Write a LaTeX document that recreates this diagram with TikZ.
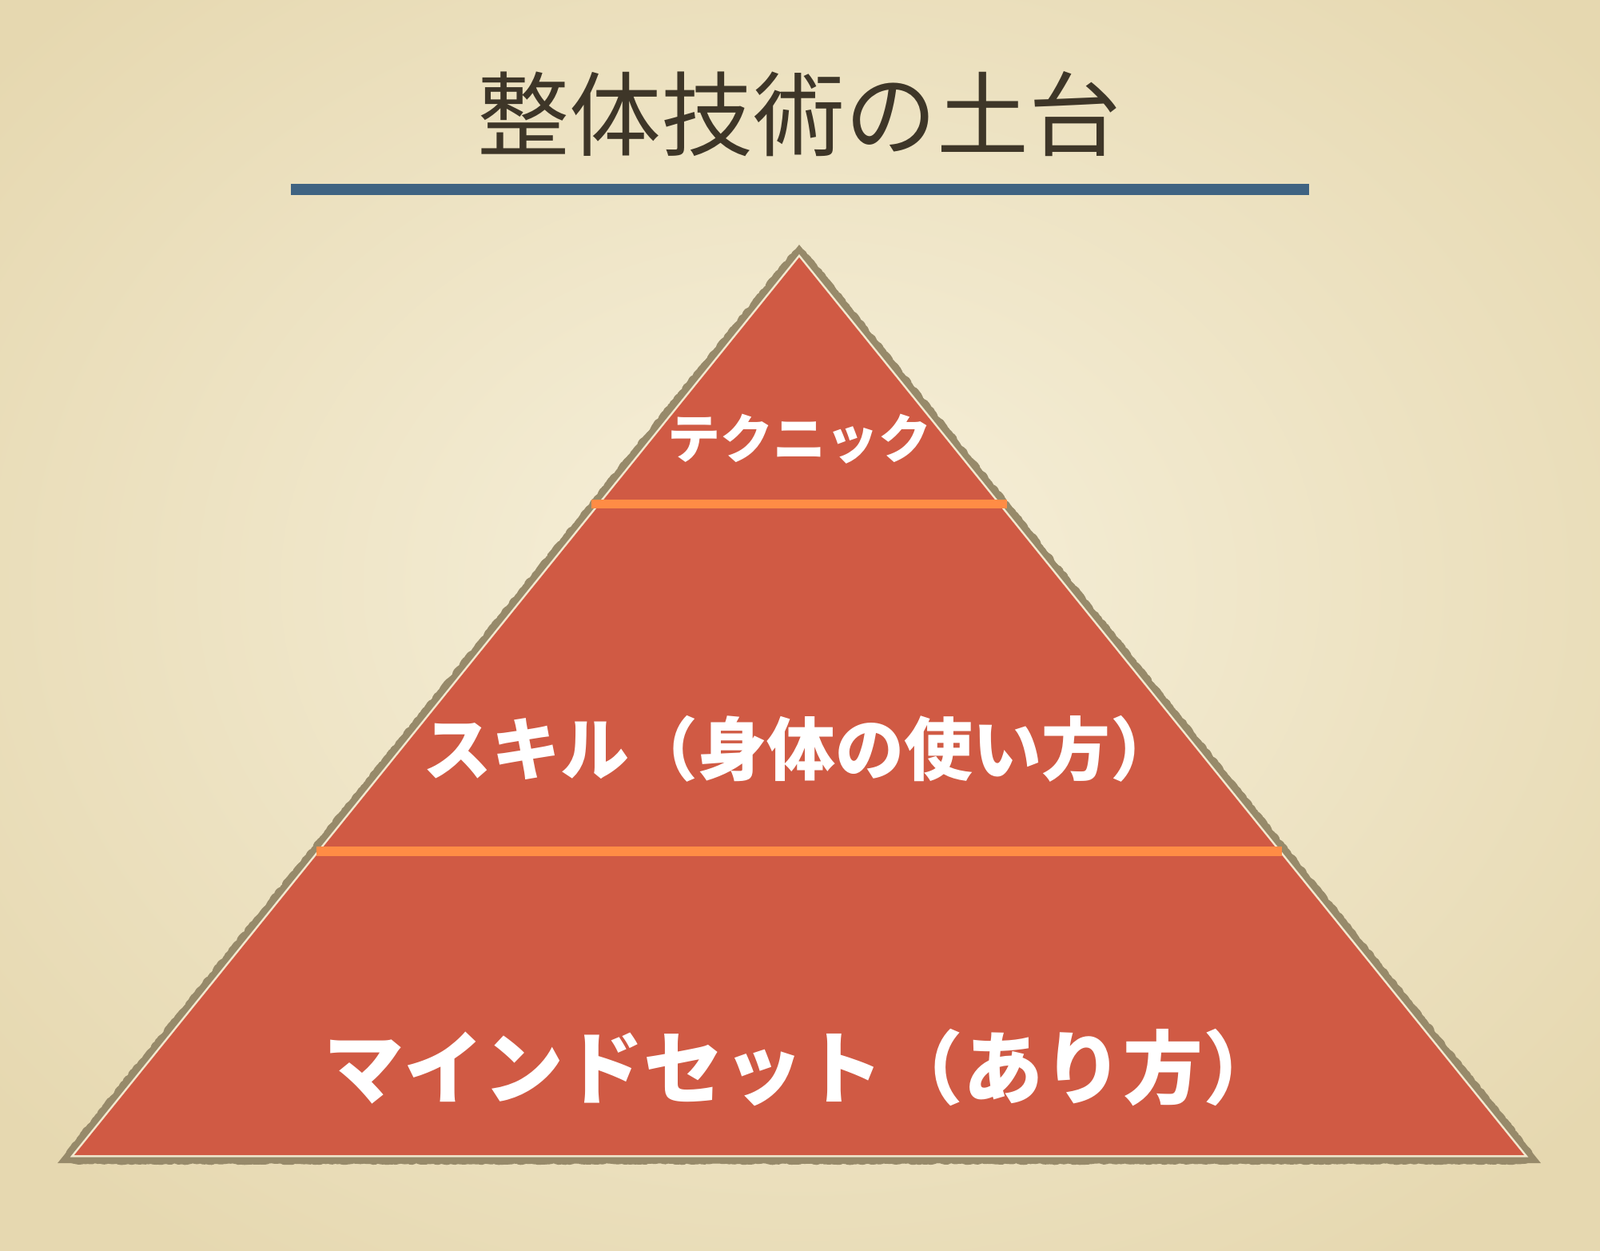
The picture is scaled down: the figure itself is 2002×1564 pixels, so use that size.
\documentclass[tikz,border=0pt]{standalone}
\usepackage{fontspec}
\newfontfamily\cjk{Noto Sans CJK JP}
\usetikzlibrary{decorations.pathmorphing}
\definecolor{bgin}{HTML}{F7F1DC}
\definecolor{bgout}{HTML}{E6D8B0}
\definecolor{pyr}{HTML}{D05A44}
\definecolor{rim}{HTML}{978A6A}
\definecolor{gap}{HTML}{F3E9CF}
\definecolor{band}{HTML}{FF8C45}
\definecolor{rulecol}{HTML}{3F6382}
\definecolor{ink}{HTML}{3E3628}
\tikzset{
  bandline/.style={band, line width=11},
  whitelabel/.style={text=white, inner sep=0pt, anchor=center},
}
\begin{document}
\begin{tikzpicture}[x=1pt,y=-1pt]
\useasboundingbox (0,0) rectangle (2002,1564);
\shade[inner color=bgin, outer color=bgout] (-300,-300) rectangle (2302,1764);
% pyramid corners
\coordinate (apex) at (1000,322);
\coordinate (bl) at (93,1445);
\coordinate (br) at (1907,1445);
% rim: clean pointed stroke plus rough overlay
\draw[rim, line width=20, line join=miter] (apex) -- (bl) -- (br) -- cycle;
\draw[rim, line width=22, line join=round, line cap=round,
      decorate, decoration={random steps, segment length=2.5pt, amplitude=1.3pt}]
  (apex) -- (bl) -- (br) -- cycle;
\draw[gap, line width=5, line join=miter] (apex) -- (bl) -- (br) -- cycle;
\fill[pyr] (apex) -- (bl) -- (br) -- cycle;
% layer separators
\coordinate (s1l) at (740,630);
\coordinate (s1r) at (1260,630);
\coordinate (s2l) at (396,1065);
\coordinate (s2r) at (1604,1065);
\draw[bandline] (s1l) -- (s1r);
\draw[bandline, line width=12] (s2l) -- (s2r);
% title and rule
\coordinate (rl) at (364,237);
\coordinate (rr) at (1638,237);
\draw[rulecol, line width=14] (rl) -- (rr);
\node[text=ink, inner sep=0pt, font=\cjk\fontsize{115}{115}\selectfont] (title) at (1000,143) {整体技術の土台};
% labels
\node[whitelabel, font=\cjk\bfseries\fontsize{66}{66}\selectfont] (tech) at (1000,549) {テクニック};
\node[whitelabel, font=\cjk\bfseries\fontsize{86}{86}\selectfont] (skill) at (1002,937) {スキル（身体の使い方）};
\node[whitelabel, font=\cjk\bfseries\fontsize{100}{100}\selectfont] (mind) at (1005,1336) {マインドセット（あり方）};
\end{tikzpicture}
\end{document}
